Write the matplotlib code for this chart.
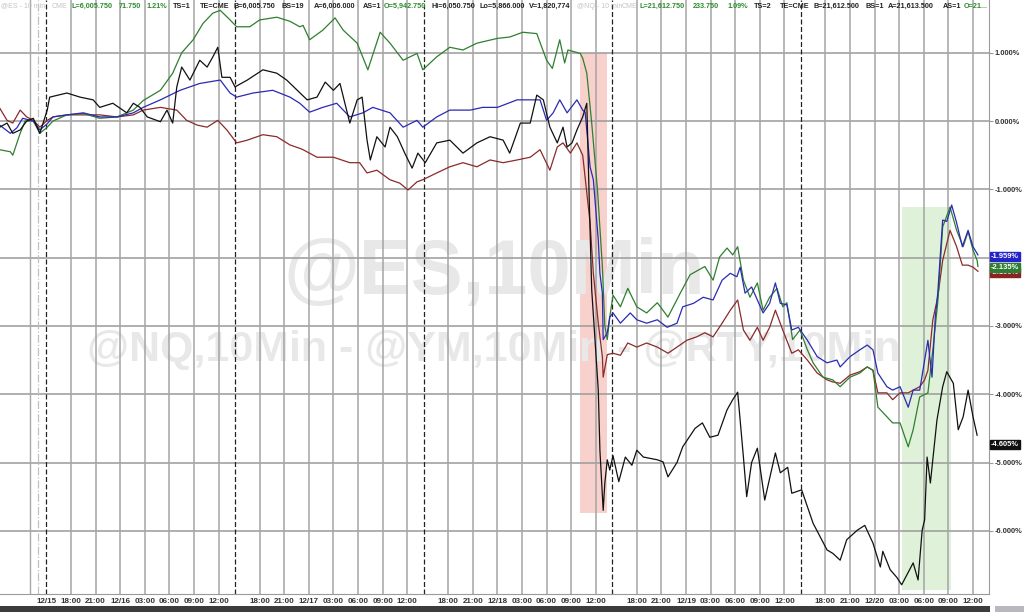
import matplotlib.pyplot as plt
from matplotlib.patches import Rectangle

# x: trading hours since the 12/15 18:00 grid line, y: % change
green_t = [-8.7, -7.4, -7.1, -6.2, -5.6, -4.6, -3.8, -2.9, -2.2, -0.5, 1.5, 3.5, 5.6, 7.6, 8.8, 10.9, 12.4, 13.5, 14.9,
           16.1, 17.3, 18.2, 19.4, 20.2, 21.8, 23.0, 25.1, 26.7, 27.9, 28.3, 29.1, 30.7, 32.2, 33.2, 34.9, 36.2, 37.7,
           38.9, 40.5, 42.2, 42.9, 44.6, 46.2, 47.8, 49.5, 52.0, 53.5, 55.1, 56.8, 58.0, 58.7, 59.6, 60.2, 60.6, 62.1,
           62.4, 62.9, 63.5, 64.2, 64.8, 65.1, 65.4, 65.7, 66.1, 67.0, 67.9, 69.0, 70.2, 71.5, 72.8, 74.3, 75.5, 77.3,
           78.3, 79.1, 80.0, 80.7, 81.3, 82.0, 82.8, 83.7, 84.4, 85.2, 86.1, 86.8, 87.3, 88.0, 88.9, 89.8, 90.5, 91.7,
           92.9, 93.8, 95.0, 96.2, 97.1, 97.8, 98.4, 99.5, 100.2, 101.1, 102.1, 102.7, 103.5, 104.5, 105.1, 105.7,
           106.3, 107.2, 108.0, 108.8, 109.4, 110.0, 110.5, 110.6]
green_v = [-0.42, -0.45, -0.50, -0.18, 0.0, 0.0, -0.18, -0.09, 0.0, 0.09, 0.11, 0.04, 0.06, 0.16, 0.30, 0.45, 0.70, 1.0,
           1.19, 1.43, 1.58, 1.62, 1.48, 1.38, 1.38, 1.48, 1.52, 1.46, 1.38, 1.40, 1.19, 1.33, 1.51, 1.33, 1.14, 0.75,
           1.30, 1.14, 0.89, 0.99, 0.75, 0.94, 1.08, 1.04, 1.14, 1.21, 1.23, 1.30, 1.28, 0.89, 0.77, 1.19, 0.85, 1.04,
           0.99, 0.92, 0.70, -0.03, -1.0, -2.13, -3.0, -3.2, -2.87, -2.55, -2.72, -2.45, -2.72, -2.81, -2.66, -2.87,
           -2.52, -2.25, -2.13, -2.33, -1.99, -1.86, -1.96, -1.84, -2.33, -2.58, -2.37, -2.77, -2.58, -2.45, -2.72,
           -2.66, -3.2, -3.06, -3.35, -3.54, -3.75, -3.79, -3.89, -3.75, -3.69, -3.60, -3.65, -4.19, -4.33, -4.42,
           -4.42, -4.77, -4.52, -4.04, -3.98, -3.35, -2.66, -1.55, -1.26, -1.60, -1.84, -1.62, -1.89, -2.04, -2.13]

black_t = [-8.7, -7.8, -7.1, -6.2, -5.4, -4.6, -3.8, -2.9, -2.6, -0.5, 1.1, 2.7, 3.5, 5.1, 6.8, 7.6, 8.4, 9.3, 10.9,
           11.7, 12.4, 12.9, 13.5, 14.5, 15.7, 16.6, 17.3, 17.9, 18.4, 19.4, 20.0, 21.5, 23.4, 25.1, 26.3, 27.6, 28.8,
           30.0, 31.0, 32.0, 32.8, 34.0, 34.9, 35.5, 36.1, 36.5, 37.3, 38.3, 38.9, 39.8, 40.7, 41.6, 42.3, 43.2, 44.6,
           46.2, 47.8, 49.5, 51.1, 52.7, 53.5, 54.8, 56.0, 56.8, 57.6, 58.4, 59.3, 60.0, 60.5, 61.1, 61.7, 62.4, 62.9,
           63.2, 63.5, 64.3, 64.5, 64.9, 65.1, 65.4, 65.7, 66.1, 66.8, 67.6, 68.4, 69.0, 69.8, 71.5, 72.2, 72.8, 73.9,
           74.6, 76.1, 77.0, 77.9, 78.9, 80.0, 80.7, 81.3, 82.0, 82.4, 83.0, 83.7, 84.6, 85.9, 86.5, 87.4, 87.9, 89.1,
           90.5, 92.2, 92.9, 93.8, 94.6, 95.9, 96.8, 97.8, 98.7, 99.0, 99.9, 100.7, 101.3, 102.7, 103.3, 103.8, 104.1,
           104.4, 104.8, 105.6, 106.3, 106.8, 107.6, 108.2, 108.8, 109.4, 110.0, 110.5]
black_v = [-0.09, -0.03, -0.18, -0.13, 0.0, 0.04, -0.18, 0.16, 0.35, 0.41, 0.35, 0.31, 0.20, 0.26, 0.12, 0.26, 0.20,
           0.06, -0.01, 0.16, -0.03, 0.50, 0.79, 0.60, 0.89, 0.79, 0.94, 1.08, 0.64, 0.64, 0.50, 0.60, 0.75, 0.70,
           0.60, 0.45, 0.31, 0.35, 0.57, 0.45, 0.55, -0.03, 0.31, 0.35, -0.28, -0.57, -0.23, -0.38, -0.09, -0.23,
           -0.47, -0.69, -0.47, -0.61, -0.32, -0.28, -0.47, -0.32, -0.23, -0.28, -0.47, -0.03, -0.03, 0.38, 0.31,
           -0.09, -0.32, -0.09, -0.38, -0.32, -0.13, 0.06, 0.26, -1.16, -2.47, -3.94, -4.82, -5.70, -5.30, -4.96,
           -5.11, -4.90, -5.28, -4.92, -5.04, -4.82, -4.92, -4.96, -4.99, -5.21, -5.0, -4.77, -4.50, -4.42, -4.63,
           -4.60, -4.23, -4.08, -3.97, -4.92, -5.50, -5.0, -4.79, -5.55, -4.86, -5.15, -5.07, -5.45, -5.40, -5.89,
           -6.28, -6.33, -6.43, -6.13, -5.99, -5.92, -6.18, -6.53, -6.30, -6.57, -6.68, -6.79, -6.47, -6.72, -5.99,
           -5.84, -4.92, -5.30, -4.38, -3.89, -3.67, -3.84, -4.52, -4.33, -3.94, -4.33, -4.60]

blue_t = [-8.7, -7.4, -6.6, -5.9, -4.6, -3.8, -2.9, -2.2, -0.5, 1.5, 3.5, 5.6, 7.6, 8.8, 10.9, 13.3, 15.7, 18.2, 19.4,
          20.2, 22.2, 24.6, 26.7, 27.9, 29.1, 30.7, 32.4, 34.0, 35.6, 36.8, 38.9, 40.5, 42.2, 42.9, 44.6, 46.2, 48.7,
          50.2, 52.0, 54.4, 56.0, 57.2, 58.0, 58.8, 59.6, 60.5, 61.7, 62.4, 62.7, 63.3, 63.7, 64.3, 64.5, 64.8, 64.9,
          65.4, 65.7, 66.1, 67.0, 68.2, 69.0, 70.2, 71.5, 72.7, 73.9, 74.6, 75.9, 77.1, 78.3, 79.4, 80.4, 81.2, 81.6,
          82.2, 83.0, 83.7, 84.4, 85.2, 85.9, 86.5, 87.3, 87.9, 88.7, 89.8, 91.0, 92.2, 93.4, 93.8, 95.0, 96.2, 97.1,
          97.8, 98.4, 99.5, 100.2, 101.1, 102.1, 102.7, 103.5, 104.5, 105.0, 105.4, 105.7, 106.3, 106.8, 107.4, 108.0,
          108.7, 109.4, 110.0, 110.6]
blue_v = [-0.06, -0.18, -0.10, 0.04, 0.0, -0.13, -0.04, 0.06, 0.09, 0.12, 0.06, 0.06, 0.12, 0.20, 0.31, 0.45, 0.55,
          0.60, 0.41, 0.35, 0.41, 0.45, 0.35, 0.26, 0.13, 0.20, 0.26, 0.06, 0.12, 0.20, 0.12, -0.09, 0.01, -0.09, 0.06,
          0.16, 0.16, 0.20, 0.20, 0.31, 0.31, 0.31, 0.01, 0.12, 0.31, 0.12, 0.31, 0.16, 0.13, -0.67, -0.86, -1.74,
          -2.23, -2.52, -3.20, -3.10, -2.87, -2.81, -2.96, -2.81, -2.91, -2.96, -2.91, -3.02, -2.96, -2.72, -2.67,
          -2.58, -2.62, -2.33, -2.23, -2.28, -2.14, -2.52, -2.43, -2.62, -2.81, -2.67, -2.37, -2.67, -2.69, -3.06,
          -3.02, -3.21, -3.45, -3.54, -3.50, -3.60, -3.45, -3.35, -3.28, -3.35, -3.69, -3.89, -3.94, -3.89, -4.19,
          -3.94, -3.94, -3.21, -3.75, -2.87, -2.52, -1.45, -1.47, -1.23, -1.49, -1.84, -1.60, -1.84, -1.96]

red_t = [-8.7, -7.8, -7.1, -6.2, -5.4, -4.6, -3.8, -2.9, -2.2, -0.5, 1.5, 3.5, 5.6, 7.6, 8.8, 10.9, 12.9, 14.1, 15.4,
         16.6, 17.9, 19.0, 20.2, 21.5, 23.4, 25.1, 26.7, 27.9, 28.3, 30.0, 32.0, 34.0, 35.2, 36.1, 37.3, 38.9, 40.1,
         41.1, 42.2, 42.9, 44.6, 46.2, 47.8, 49.5, 51.1, 52.7, 54.4, 56.0, 57.2, 58.4, 59.3, 60.0, 60.9, 61.7, 62.4,
         63.3, 63.7, 64.3, 64.8, 64.9, 65.4, 66.1, 67.0, 67.9, 69.0, 70.2, 71.5, 72.8, 73.9, 75.1, 76.3, 77.3, 78.3,
         79.4, 80.4, 81.3, 82.0, 82.8, 83.7, 84.4, 85.2, 85.9, 86.8, 87.9, 88.7, 89.8, 91.0, 92.2, 92.9, 93.8, 95.0,
         96.2, 97.1, 97.8, 98.4, 99.5, 100.2, 101.1, 102.1, 102.7, 103.5, 104.1, 104.5, 105.1, 105.7, 106.3, 107.2,
         108.0, 108.7, 109.4, 110.0, 110.6]
red_v = [0.19, 0.01, -0.03, 0.16, 0.06, 0.01, -0.09, 0.01, 0.06, 0.09, 0.09, 0.09, 0.06, 0.09, 0.16, 0.20, 0.16, 0.01,
         -0.06, -0.09, 0.01, -0.13, -0.32, -0.28, -0.20, -0.23, -0.35, -0.40, -0.42, -0.53, -0.53, -0.61, -0.61, -0.76,
         -0.72, -0.86, -0.91, -1.01, -0.89, -0.86, -0.76, -0.67, -0.61, -0.67, -0.57, -0.61, -0.57, -0.53, -0.42,
         -0.72, -0.38, -0.32, -0.47, -0.32, -0.50, -1.49, -2.23, -2.96, -3.45, -3.75, -3.42, -3.40, -3.43, -3.25,
         -3.31, -3.25, -3.31, -3.40, -3.31, -3.21, -3.16, -3.10, -3.16, -2.96, -2.77, -2.62, -3.06, -3.21, -3.02,
         -3.21, -3.02, -2.77, -3.06, -3.40, -3.35, -3.50, -3.69, -3.79, -3.82, -3.84, -3.72, -3.67, -3.60, -3.65,
         -3.98, -3.98, -4.08, -3.98, -3.98, -3.94, -3.89, -3.79, -3.65, -2.91, -2.58, -2.04, -1.60, -1.84, -2.11,
         -2.11, -2.14, -2.20]

tick_pos = [-3, 0, 3, 6, 9, 12, 15, 18, 23, 26, 29, 32, 35, 38, 41, 46, 49, 52, 55, 58, 61, 64,
            69, 72, 75, 78, 81, 84, 87, 92, 95, 98, 101, 104, 107, 110]
tick_lab = ['12/15', '18:00', '21:00', '12/16', '03:00', '06:00', '09:00', '12:00',
            '18:00', '21:00', '12/17', '03:00', '06:00', '09:00', '12:00',
            '18:00', '21:00', '12/18', '03:00', '06:00', '09:00', '12:00',
            '18:00', '21:00', '12/19', '03:00', '06:00', '09:00', '12:00',
            '18:00', '21:00', '12/20', '03:00', '06:00', '09:00', '12:00']
session_breaks = [-3, 20, 43, 66, 89]
pct_ticks = [1, 0, -1, -2, -3, -4, -5, -6]

# last values shown in the tags on the right
last_labels = [('-2.196%', -2.22, '#8b2323'), ('-2.135%', -2.14, '#2e7d32'),
               ('-1.959%', -1.98, '#2323c8'), ('-4.605%', -4.74, '#111111')]

# header strings: (text, x pixel, colour)
header = [('@ES - 10 min', 1, '#c4c4c4'), ('CME', 52, '#c4c4c4'), ('L=6,005.750', 71, '#2e8b2e'),
          ('71.750', 119, '#2e8b2e'), ('1.21%', 146, '#2e8b2e'), ('TS=1', 173, '#222'), ('TE=CME', 200, '#222'),
          ('B=6,005.750', 233, '#222'), ('BS=19', 281, '#222'), ('A=6,006.000', 314, '#222'),
          ('AS=1', 363, '#222'), ('O=5,942.750', 384, '#2e8b2e'), ('Hi=6,050.750', 432, '#222'),
          ('Lo=5,866.000', 480, '#222'), ('V=1,820,774', 529, '#222'), ('@NQ - 10 min', 577, '#c4c4c4'),
          ('CME', 622, '#c4c4c4'), ('L=21,612.750', 640, '#2e8b2e'), ('233.750', 693, '#2e8b2e'),
          ('1.09%', 727, '#2e8b2e'), ('TS=2', 754, '#222'), ('TE=CME', 780, '#222'), ('B=21,612.500', 813, '#222'),
          ('BS=1', 866, '#222'), ('A=21,613.500', 888, '#222'), ('AS=1', 943, '#222'), ('O=21...', 964, '#2e8b2e')]
header_faint = ['@ES - 10 min', 'CME', '@NQ - 10 min']

W, H = 1024, 612
fig = plt.figure(figsize=(W / 100, H / 100), dpi=100)
ax = fig.add_axes([0, 1 - 594 / H, 989 / W, 594 / H])
ax.set_xlim(-8.66, 111.95)
ax.set_ylim(-6.925, 1.772)

# grid
for p in pct_ticks:
    ax.axhline(p, color='#9a9a9a', lw=1.1, zorder=1)
for p in tick_pos:
    if p not in session_breaks:
        ax.axvline(p, color='#a4a4a4', lw=1.1, zorder=1)
for p in session_breaks:
    ax.axvline(p, color='#222222', lw=0.9, ls=(0, (4, 2)), zorder=1.2)
ax.axvline(-5, color='#a8a8a8', lw=1.0, zorder=1)
ax.axvline(-4, color='#c0c0c0', lw=0.9, ls='-.', zorder=1)

# highlighted zones
ax.add_patch(Rectangle((62.1, -5.74), 3.3, 6.74, color='#f7c9c5', alpha=0.85, lw=0, zorder=0.5))
ax.add_patch(Rectangle((101.3, -6.87), 6.0, 5.61, color='#dcf0d5', alpha=0.9, lw=0, zorder=0.5))

# watermarks
ax.text(494 / 989, (594 - 273) / 594, '@ES,10Min', transform=ax.transAxes, fontsize=56, fontweight='bold',
        color='#e8e8e8', ha='center', va='center', zorder=0.8, family='Liberation Sans')
ax.text(494 / 989, (594 - 350) / 594, '@NQ,10Min - @YM,10Min - @RTY,10Min', transform=ax.transAxes, fontsize=31,
        fontweight='bold', color='#e8e8e8', ha='center', va='center', zorder=0.8, family='Liberation Sans',
        clip_on=True)

ax.plot(red_t, red_v, color='#8b2a2a', lw=0.9, zorder=3)
ax.plot(green_t, green_v, color='#2f7f2f', lw=0.9, zorder=3)
ax.plot(blue_t, blue_v, color='#2a2ab4', lw=0.9, zorder=3)
ax.plot(black_t, black_v, color='#111111', lw=0.9, zorder=3)

# axes styling
for s in ['top', 'left']:
    ax.spines[s].set_visible(False)
ax.spines['right'].set_color('#9a9a9a')
ax.spines['bottom'].set_color('#9a9a9a')
ax.yaxis.tick_right()
ax.set_yticks(pct_ticks)
ax.set_yticklabels(['' if p == -2 else '%.3f%%' % p for p in pct_ticks])
ax.tick_params(axis='y', length=3, width=0.8, color='#9a9a9a', pad=1, labelsize=5.4, labelcolor='#333333')
ax.set_xticks(tick_pos)
ax.set_xticklabels(tick_lab)
ax.tick_params(axis='x', length=0, pad=3, labelsize=5.8, labelcolor='#333333')
for lab in ax.get_xticklabels() + ax.get_yticklabels():
    lab.set_fontweight('bold')
    lab.set_family('Liberation Sans')

# last value tags
for txt, y, c in last_labels:
    ax.text(1.002, y, txt, transform=ax.get_yaxis_transform(), fontsize=5.4, fontweight='bold', color='white',
            family='Liberation Sans', ha='left', va='center', zorder=6, clip_on=False,
            bbox=dict(boxstyle='square,pad=0.15', fc=c, ec=c))

# header row
for txt, x, c in header:
    faint = txt in header_faint
    fig.text(x / W, 1 - 6 / H, txt, fontsize=5.0 if faint else 5.2, fontweight='normal' if faint else 'bold',
             color=c, family='Liberation Sans', ha='left', va='center')

# scroll bar at the bottom
fig.patches.append(Rectangle((0, 0), 990 / W, 6 / H, transform=fig.transFigure, color='#3c3c3c', lw=0))
fig.patches.append(Rectangle((995 / W, 0), 29 / W, 6 / H, transform=fig.transFigure, color='#b8b8c0', lw=0))

fig.savefig('out.png', dpi=100)
